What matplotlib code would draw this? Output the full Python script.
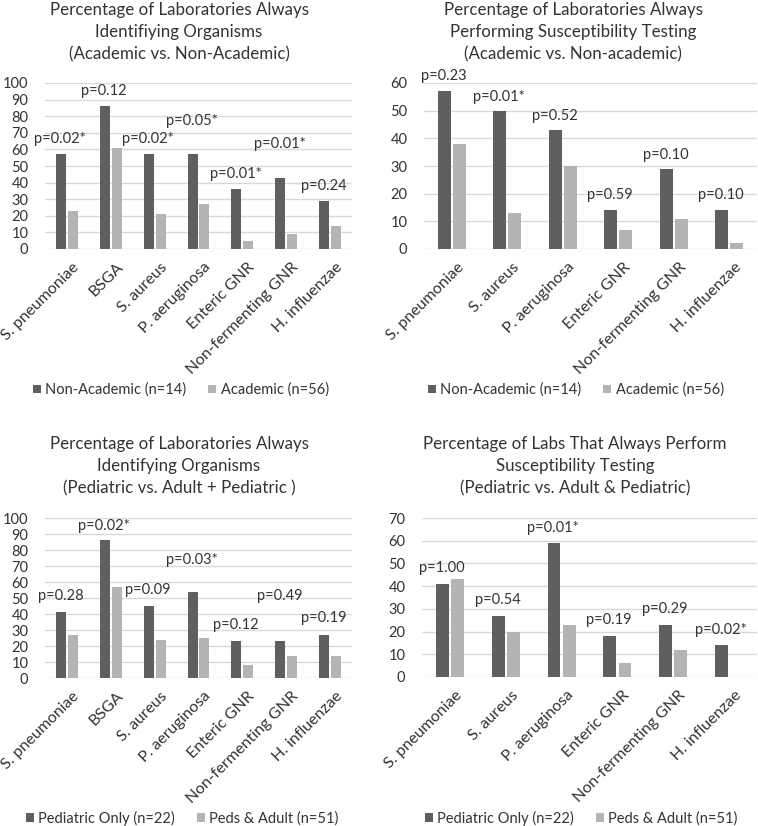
import numpy as np
import matplotlib
matplotlib.use("Agg")
from matplotlib import pyplot as plt
from matplotlib.transforms import ScaledTranslation

plt.rcParams['font.family'] = ['Lato', 'DejaVu Sans']

# Data
orgs7 = ['S. pneumoniae', 'BSGA', 'S. aureus', 'P. aeruginosa', 'Enteric GNR',
         'Non-fermenting GNR', 'H. influenzae']
orgs6 = ['S. pneumoniae', 'S. aureus', 'P. aeruginosa', 'Enteric GNR',
         'Non-fermenting GNR', 'H. influenzae']

# panel 1: identifying, academic vs non-academic
nonacad_id = [57, 86, 57, 57, 36, 43, 29]
acad_id = [23, 61, 21, 27, 5, 9, 14]
p_acad_id = ['p=0.02*', 'p=0.12', 'p=0.02*', 'p=0.05*', 'p=0.01*', 'p=0.01*', 'p=0.24']

# panel 2: susceptibility, academic vs non-academic
nonacad_ast = [57, 50, 43, 14, 29, 14]
acad_ast = [38, 13, 30, 7, 11, 2]
p_acad_ast = ['p=0.23', 'p=0.01*', 'p=0.52', 'p=0.59', 'p=0.10', 'p=0.10']

# panel 3: identifying, pediatric vs adult + pediatric
ped_id = [41, 86, 45, 54, 23, 23, 27]
peds_adult_id = [27, 57, 24, 25, 8, 14, 14]
p_ped_id = ['p=0.28', 'p=0.02*', 'p=0.09', 'p=0.03*', 'p=0.12', 'p=0.49', 'p=0.19']

# panel 4: susceptibility, pediatric vs adult & pediatric
ped_ast = [41, 27, 59, 18, 23, 14]
peds_adult_ast = [43, 20, 23, 6, 12, 0]
p_ped_ast = ['p=1.00', 'p=0.54', 'p=0.01*', 'p=0.19', 'p=0.29', 'p=0.02*']

# heights where the p-value boxes sit (placed by hand in the original)
p_y1 = [66, 95, 66, 77, 45, 63, 38]
p_y2 = [62.5, 55, 48, 19.5, 34, 19.5]
p_y3 = [51, 95, 55, 74, 33, 51, 37.5]
p_y4 = [48, 34, 65.5, 25, 30, 20.5]

dark = '#5f5f5f'
light = '#b4b4b4'
txt = '#333333'
grid_c = '#d9d9d9'

W, H = 758, 826
fig = plt.figure(figsize=(W / 100, H / 100), dpi=100)


def px_axes(x0, x1, ytop, ybot):
    return fig.add_axes([x0 / W, 1 - ybot / H, (x1 - x0) / W, (ybot - ytop) / H])


def draw(ax, cats, a, b, pvals, py, ymax, step):
    x = np.arange(len(cats))
    bw = 0.23
    ax.bar(x - 0.135, a, bw, color=dark, zorder=3)
    ax.bar(x + 0.135, b, bw, color=light, zorder=3)
    for i, (p, y) in enumerate(zip(pvals, py)):
        ax.text(i - 0.15, y, p, ha='center', va='center', fontsize=10.5, color=txt, zorder=4)
    ax.set_xlim(-0.5, len(cats) - 0.5)
    ax.set_ylim(0, ymax)
    ax.set_yticks(np.arange(0, ymax + 1, step))
    ax.yaxis.grid(True, color=grid_c, linewidth=1, zorder=0)
    ax.set_axisbelow(True)
    for s in ax.spines.values():
        s.set_visible(False)
    ax.tick_params(axis='both', length=0, labelsize=10.5, colors=txt)
    ax.tick_params(axis='y', pad=12)
    ax.set_xticks(x)
    ax.set_xticklabels(cats, rotation=45, ha='right', rotation_mode='anchor', fontsize=11.5)
    ax.tick_params(axis='x', pad=8)
    shift = ScaledTranslation(5 / 100, 0, fig.dpi_scale_trans)
    for lab in ax.get_xticklabels():
        lab.set_transform(lab.get_transform() + shift)
    ax.set_facecolor('none')


ax1 = px_axes(45, 352, 83, 249)
draw(ax1, orgs7, nonacad_id, acad_id, p_acad_id, p_y1, 100, 10)
ax2 = px_axes(424, 757, 83, 249)
draw(ax2, orgs6, nonacad_ast, acad_ast, p_acad_ast, p_y2, 60, 10)
ax3 = px_axes(45, 352, 518, 678)
draw(ax3, orgs7, ped_id, peds_adult_id, p_ped_id, p_y3, 100, 10)
ax4 = px_axes(422, 757, 518, 677)
draw(ax4, orgs6, ped_ast, peds_adult_ast, p_ped_ast, p_y4, 70, 10)

titles = [
    ('Percentage of Laboratories Always\nIdentifiying Organisms\n(Academic vs. Non-Academic)', 179, 32),
    ('Percentage of Laboratories Always\nPerforming Susceptibility Testing\n(Academic vs. Non-academic)', 573, 32),
    ('Percentage of Laboratories Always\nIdentifying Organisms\n(Pediatric vs. Adult + Pediatric )', 179, 466),
    ('Percentage of Labs That Always Perform\nSusceptibility Testing\n(Pediatric vs. Adult & Pediatric)', 575, 466),
]
for t, xc, yc in titles:
    fig.text(xc / W, 1 - yc / H, t, ha='center', va='center', fontsize=12.2,
             color=txt, linespacing=1.45)

legends = [
    (ax1, ['Non-Academic (n=14)', 'Academic (n=56)'], 181, 390),
    (ax2, ['Non-Academic (n=14)', 'Academic (n=56)'], 576, 390),
    (ax3, ['Pediatric Only (n=22)', 'Peds & Adult (n=51)'], 182, 818),
    (ax4, ['Pediatric Only (n=22)', 'Peds & Adult (n=51)'], 581, 818),
]
for ax, labs, xc, yc in legends:
    hs = ax.containers[:2]
    fig.legend(hs, labs, loc='center', bbox_to_anchor=(xc / W, 1 - yc / H), ncol=2,
               frameon=False, fontsize=10.5, handlelength=0.55, handleheight=0.55,
               handletextpad=0.3, columnspacing=1.5, labelcolor=txt)

fig.savefig('out.png', dpi=100)
